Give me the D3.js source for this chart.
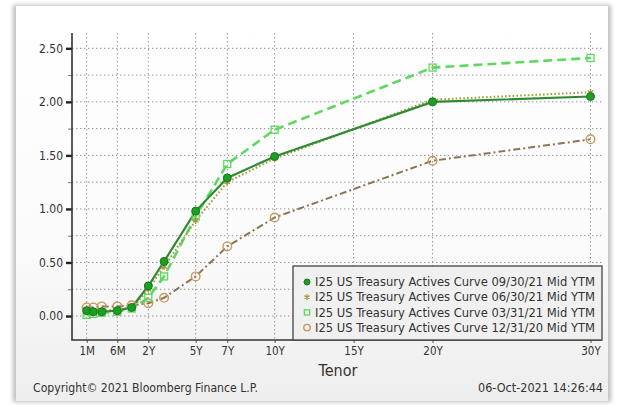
<!DOCTYPE html>
<html>
<head>
<meta charset="utf-8">
<script src="https://cdn.jsdelivr.net/npm/d3@7/dist/d3.min.js"></script>
<style>
  html, body { margin: 0; padding: 0; background: #ffffff; }
  svg { display: block; }
  text { font-family: "DejaVu Sans Condensed", "DejaVu Sans", sans-serif; }
</style>
</head>
<body>
<svg id="chart" width="620" height="412"></svg>
<script>
// Tenors of the curve points
const tenorLabels = ["1M", "2M", "3M", "6M", "1Y", "2Y", "3Y", "5Y", "7Y", "10Y", "20Y", "30Y"];
const tenorYears = [1 / 12, 2 / 12, 3 / 12, 0.5, 1, 2, 3, 5, 7, 10, 20, 30];

// Labelled tenors on the x axis
const axisTickLabels = ["1M", "6M", "2Y", "5Y", "7Y", "10Y", "15Y", "20Y", "30Y"];
const axisTickYears = [1 / 12, 0.5, 2, 5, 7, 10, 15, 20, 30];

// Yield axis ticks
const yieldTicks = [0, 0.5, 1.0, 1.5, 2.0, 2.5];
const yieldMinorTicks = [0.25, 0.75, 1.25, 1.75, 2.25];

// Mid YTM (%) per curve date
const curve093021 = [0.05, 0.04, 0.04, 0.05, 0.08, 0.28, 0.51, 0.98, 1.29, 1.49, 2.00, 2.05];
const curve063021 = [0.05, 0.04, 0.05, 0.06, 0.07, 0.25, 0.46, 0.89, 1.25, 1.47, 2.02, 2.09];
const curve033121 = [0.01, 0.02, 0.03, 0.04, 0.07, 0.17, 0.37, 0.93, 1.42, 1.74, 2.32, 2.41];
const curve123120 = [0.08, 0.08, 0.09, 0.09, 0.10, 0.12, 0.17, 0.37, 0.65, 0.92, 1.45, 1.65];

const seriesNames = [
  "I25 US Treasury Actives Curve 09/30/21 Mid YTM",
  "I25 US Treasury Actives Curve 06/30/21 Mid YTM",
  "I25 US Treasury Actives Curve 03/31/21 Mid YTM",
  "I25 US Treasury Actives Curve 12/31/20 Mid YTM"
];

const series = [
  { name: seriesNames[0], values: curve093021, line: "#2f8a34", width: 2.2, dash: null, marker: "dot" },
  { name: seriesNames[1], values: curve063021, line: "#a39a3c", width: 2, dash: "1.6,2.2", marker: "star" },
  { name: seriesNames[2], values: curve033121, line: "#5fd85f", width: 2.6, dash: "9,5", marker: "square" },
  { name: seriesNames[3], values: curve123120, line: "#8c7553", width: 2, dash: "7,3,2,3", marker: "ring" }
];

const svg = d3.select("#chart");

// Card background with soft edges
const defs = svg.append("defs");
const grad = defs.append("linearGradient").attr("id", "cardFill")
  .attr("x1", 0).attr("y1", 0).attr("x2", 0).attr("y2", 1);
grad.append("stop").attr("offset", "0%").attr("stop-color", "#ffffff");
grad.append("stop").attr("offset", "60%").attr("stop-color", "#fbfbfb");
grad.append("stop").attr("offset", "100%").attr("stop-color", "#eeeeee");
const blur = defs.append("filter").attr("id", "shadow").attr("x", "-5%").attr("y", "-5%").attr("width", "110%").attr("height", "110%");
blur.append("feGaussianBlur").attr("stdDeviation", 2);

svg.append("rect").attr("x", 13).attr("y", 5).attr("width", 598).attr("height", 397)
  .attr("fill", "#bdbdbd").attr("filter", "url(#shadow)");
svg.append("rect").attr("x", 16).attr("y", 6).attr("width", 592).attr("height", 395)
  .attr("fill", "url(#cardFill)");

// Plot frame
const plotLeft = 72, plotRight = 602, plotTop = 33, plotBottom = 340;

// Short tenors are spread out; from 2Y onwards the axis is linear in years
const x = d3.scaleLinear()
  .domain([1 / 12, 2 / 12, 3 / 12, 0.5, 1, 2, 30])
  .range([86.7, 93.3, 101.7, 117.3, 131.7, 148.3, 590.5]);

const y = d3.scaleLinear().domain([-0.224, 2.643]).range([plotBottom, plotTop]);

// Grid
const grid = svg.append("g").attr("stroke", "#8f8f8f").attr("stroke-width", 1)
  .attr("stroke-dasharray", "1.4,2.6");
grid.selectAll("line.h").data(yieldTicks.concat(yieldMinorTicks)).join("line")
  .attr("class", "h")
  .attr("x1", plotLeft).attr("x2", plotRight)
  .attr("y1", d => y(d)).attr("y2", d => y(d));
grid.selectAll("line.v").data(axisTickYears).join("line")
  .attr("class", "v")
  .attr("x1", d => x(d)).attr("x2", d => x(d))
  .attr("y1", plotTop).attr("y2", plotBottom);

// Y axis
const yAxis = svg.append("g").attr("transform", `translate(${plotLeft},0)`)
  .call(d3.axisLeft(y).tickValues(yieldTicks).tickFormat(d3.format(".2f")).tickSize(6).tickPadding(3));
yAxis.select(".domain").remove();
yAxis.selectAll(".tick line").attr("stroke", "#222").attr("stroke-width", 2.4);
yAxis.selectAll(".tick text").attr("fill", "#333").attr("font-size", 12);
svg.append("g").attr("transform", `translate(${plotLeft},0)`)
  .call(d3.axisLeft(y).tickValues(yieldMinorTicks).tickFormat("").tickSize(4))
  .call(g => g.select(".domain").remove())
  .selectAll(".tick line").attr("stroke", "#777").attr("stroke-width", 1);

// X axis
const xAxis = svg.append("g").attr("transform", `translate(0,${plotBottom})`)
  .call(d3.axisBottom(x).tickValues(axisTickYears)
    .tickFormat((d, i) => axisTickLabels[i]).tickSize(3).tickPadding(4));
xAxis.select(".domain").remove();
xAxis.selectAll(".tick line").attr("stroke", "#555");
xAxis.selectAll(".tick text").attr("fill", "#333").attr("font-size", 11.5);

// Axis lines
svg.append("path")
  .attr("d", `M${plotLeft},${plotTop}V${plotBottom}H${plotRight}`)
  .attr("fill", "none").attr("stroke", "#333").attr("stroke-width", 1.6);

// Curves
const lineGen = d3.line().x((d, i) => x(tenorYears[i])).y(d => y(d));
const drawOrder = [3, 2, 1, 0];

function drawMarker(g, type, cx, cy, scale) {
  const s = scale || 1;
  if (type === "dot") {
    g.append("circle").attr("cx", cx).attr("cy", cy).attr("r", 4 * s)
      .attr("fill", "#1c9e22").attr("stroke", "#18781c").attr("stroke-width", 1);
  } else if (type === "square") {
    g.append("rect").attr("x", cx - 3.5 * s).attr("y", cy - 3.5 * s)
      .attr("width", 7 * s).attr("height", 7 * s)
      .attr("fill", "none").attr("stroke", "#5ed95e").attr("stroke-width", 1.3);
  } else if (type === "ring") {
    g.append("circle").attr("cx", cx).attr("cy", cy).attr("r", 4.3 * s)
      .attr("fill", "none").attr("stroke", "#c8975c").attr("stroke-width", 1.4);
  } else if (type === "star") {
    g.append("path").attr("transform", `translate(${cx},${cy})`)
      .attr("d", d3.symbol(d3.symbolAsterisk, 28 * s * s)())
      .attr("fill", "none").attr("stroke", "#a8963e").attr("stroke-width", 1.3);
  }
}

const curves = svg.append("g");
drawOrder.forEach(k => {
  const s = series[k];
  curves.append("path").datum(s.values)
    .attr("d", lineGen)
    .attr("fill", "none").attr("stroke", s.line).attr("stroke-width", s.width)
    .attr("stroke-dasharray", s.dash);
});
drawOrder.forEach(k => {
  const s = series[k];
  const g = curves.append("g");
  s.values.forEach((v, i) => drawMarker(g, s.marker, x(tenorYears[i]), y(v)));
});

// Legend
const legend = svg.append("g");
legend.append("rect").attr("x", 293).attr("y", 266).attr("width", 309).attr("height", 74)
  .attr("fill", "#efefef").attr("fill-opacity", 0.95)
  .attr("stroke", "#444").attr("stroke-width", 1.3);
series.forEach((s, i) => {
  const cy = 282 + i * 15.2;
  drawMarker(legend, s.marker, 307, cy, s.marker === "star" ? 0.95 : 0.75);
  legend.append("text").attr("x", 315).attr("y", cy).attr("dy", "0.35em")
    .attr("font-size", 12.2).attr("fill", "#333")
    .attr("textLength", 280).attr("lengthAdjust", "spacingAndGlyphs")
    .text(s.name);
});

// Axis title and footer
svg.append("text").attr("x", 338).attr("y", 370).attr("dy", "0.35em")
  .attr("text-anchor", "middle").attr("font-size", 16).attr("fill", "#333").text("Tenor");
svg.append("text").attr("x", 33).attr("y", 388).attr("dy", "0.35em")
  .attr("font-size", 12).attr("fill", "#333")
  .attr("textLength", 225).attr("lengthAdjust", "spacingAndGlyphs")
  .text("Copyright© 2021 Bloomberg Finance L.P.");
svg.append("text").attr("x", 603).attr("y", 388).attr("dy", "0.35em")
  .attr("text-anchor", "end").attr("font-size", 12).attr("fill", "#333")
  .attr("textLength", 125).attr("lengthAdjust", "spacingAndGlyphs")
  .text("06-Oct-2021 14:26:44");
</script>
</body>
</html>
